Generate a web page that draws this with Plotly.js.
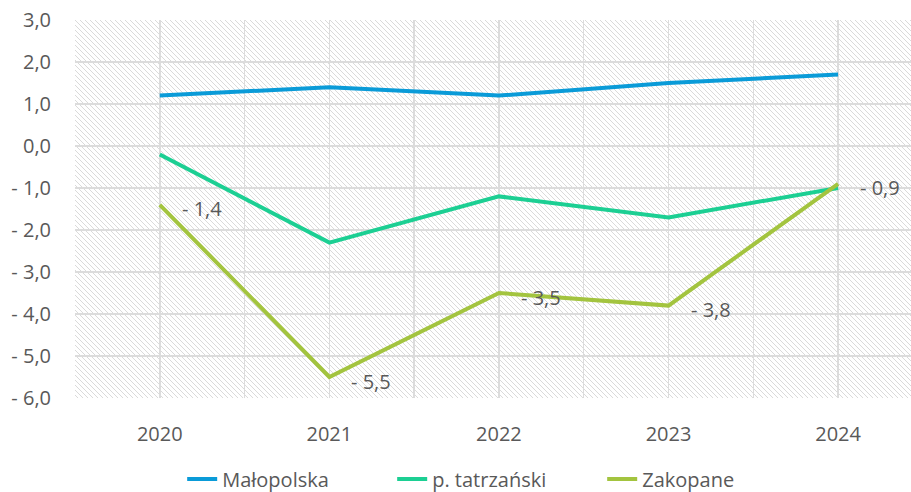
<!DOCTYPE html>
<html>
<head>
<meta charset="utf-8">
<script src="https://cdn.plot.ly/plotly-3.0.1.min.js"></script>
<style>
html,body{margin:0;padding:0;background:#fff;}
#chart{width:911px;height:492px;}
</style>
</head>
<body>
<div id="chart"></div>
<script>
const years = [2020, 2021, 2022, 2023, 2024];
const malopolska = [1.2, 1.4, 1.2, 1.5, 1.7];
const tatrzanski = [-0.2, -2.3, -1.2, -1.7, -1.0];
const zakopane = [-1.4, -5.5, -3.5, -3.8, -0.9];
const zakopaneLabels = ['- 1,4', '- 5,5', '- 3,5', '- 3,8', '- 0,9'];
const seriesNames = ['Małopolska', 'p. tatrzański', 'Zakopane'];
const yTickVals = [3, 2, 1, 0, -1, -2, -3, -4, -5, -6];
const yTickText = ['3,0', '2,0', '1,0', '0,0', '- 1,0', '- 2,0', '- 3,0', '- 4,0', '- 5,0', '- 6,0'];

const colors = ['#0a9bd8', '#1ccf93', '#a3c43f'];
const font = 'Open Sans, sans-serif';
const textColor = '#595959';

const xTickVals = [];
const xTickText = [];
years.forEach((y, i) => {
  xTickVals.push(y - 0.5, y);
  xTickText.push('', String(y));
});
xTickVals.push(years[years.length - 1] + 0.5);
xTickText.push('');

const W = 836, H = 378;
const svg = `<svg xmlns="http://www.w3.org/2000/svg" width="${W}" height="${H}"><defs><pattern id="p" width="5" height="5" patternUnits="userSpaceOnUse"><path d="M-1,-1 L6,6 M-1,4 L1,6 M4,-1 L6,1" stroke="#dadada" stroke-width="1"/></pattern></defs><rect width="${W}" height="${H}" fill="#ffffff"/><rect width="${W}" height="${H}" fill="url(#p)"/></svg>`;
const bg = 'data:image/svg+xml;base64,' + btoa(svg);

const series = [malopolska, tatrzanski, zakopane];
const traces = series.map((vals, i) => ({
  x: years, y: vals, type: 'scatter', mode: 'lines', name: seriesNames[i],
  line: {color: colors[i], width: 4}, hoverinfo: 'skip'
}));

const annotations = years.map((yr, i) => ({
  x: yr, y: zakopane[i], text: zakopaneLabels[i], showarrow: false,
  xanchor: 'left', yanchor: 'middle', xshift: 20, yshift: -4,
  font: {family: font, size: 20, color: textColor}
}));

const layout = {
  width: 911, height: 492,
  margin: {l: 75, r: 0, t: 20, b: 94, autoexpand: false},
  paper_bgcolor: '#ffffff',
  plot_bgcolor: 'rgba(0,0,0,0)',
  images: [{source: bg, xref: 'paper', yref: 'paper', x: 0, y: 1, sizex: 1, sizey: 1,
    sizing: 'stretch', xanchor: 'left', yanchor: 'top', layer: 'below'}],
  xaxis: {
    range: [2019.5, 2024.43], tickvals: xTickVals, ticktext: xTickText,
    showgrid: true, gridcolor: '#dcdcdc', gridwidth: 1.5, zeroline: false,
    showline: false, ticks: '', ticklabelstandoff: 22, automargin: false,
    tickfont: {family: font, size: 20, color: textColor}, fixedrange: true
  },
  yaxis: {
    range: [-6, 3], tickvals: yTickVals, ticktext: yTickText,
    showgrid: true, gridcolor: '#dcdcdc', gridwidth: 1.5, zeroline: false,
    showline: false, ticks: '', ticklabelstandoff: 23, automargin: false,
    tickfont: {family: font, size: 20, color: textColor}, fixedrange: true
  },
  legend: {
    orientation: 'h', x: 0.505, xanchor: 'center', y: -0.266, yanchor: 'bottom',
    entrywidth: 165, entrywidthmode: 'pixels',
    font: {family: font, size: 20, color: textColor}, bgcolor: 'rgba(0,0,0,0)'
  },
  annotations: annotations,
  showlegend: true
};

Plotly.newPlot('chart', traces, layout, {displayModeBar: false, staticPlot: true});
</script>
</body>
</html>
